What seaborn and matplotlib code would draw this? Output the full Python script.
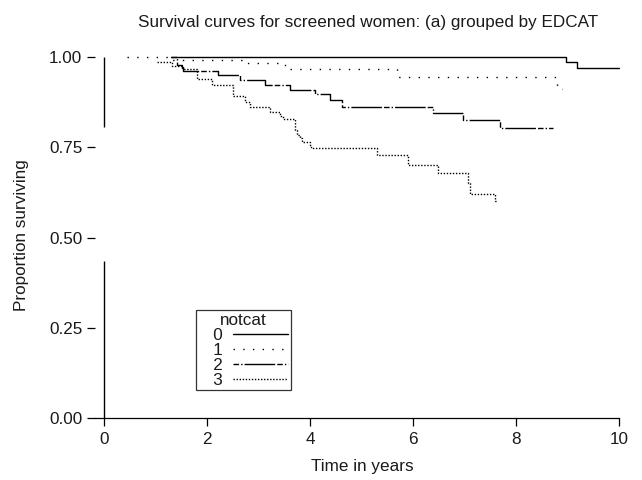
import numpy as np
import pandas as pd
import seaborn as sns
import matplotlib.pyplot as plt
from matplotlib.lines import Line2D

# survival step curves (time in years, proportion surviving)
t0 = [1.30, 8.97, 9.18, 10.0]
s0 = [1.000, 0.986, 0.970, 0.970]

t1 = [0.45, 1.32, 2.74, 3.51, 5.69, 8.80, 8.90]
s1 = [1.000, 0.993, 0.983, 0.967, 0.945, 0.911, 0.911]

t2 = [1.30, 1.42, 1.51, 1.53, 2.21, 2.64, 3.13, 3.61, 4.10, 4.39, 4.62, 6.39, 6.97, 7.69, 8.72]
s2 = [1.000, 0.978, 0.969, 0.961, 0.950, 0.936, 0.922, 0.909, 0.898, 0.881, 0.862, 0.845, 0.826, 0.803, 0.803]

t3 = [1.03, 1.32, 1.53, 1.81, 2.10, 2.50, 2.74, 2.83, 3.22, 3.42, 3.48, 3.71, 3.75, 3.81, 3.84,
      4.00, 4.02, 5.30, 5.90, 6.49, 7.07, 7.11, 7.59, 7.62]
s3 = [0.986, 0.975, 0.967, 0.939, 0.922, 0.892, 0.875, 0.861, 0.848, 0.837, 0.828, 0.798, 0.784,
      0.776, 0.765, 0.756, 0.748, 0.729, 0.701, 0.679, 0.651, 0.620, 0.601, 0.601]

groups = ['0', '1', '2', '3']
times = [t0, t1, t2, t3]
survs = [s0, s1, s2, s3]
styles = {'0': '-',
          '1': (0, (1, 6)),
          '2': (0, (4, 1.5, 1, 1.5, 22, 1.5)),
          '3': (0, (1, 1.2))}

yticks = [0, 0.25, 0.5, 0.75, 1.0]
ytick_labels = ['0.00', '0.25', '0.50', '0.75', '1.00']
xticks = [0, 2, 4, 6, 8, 10]

sns.set_style('white')
plt.rcParams['font.family'] = ['Liberation Sans', 'DejaVu Sans']

fig = plt.figure(figsize=(6.42, 4.8), dpi=100)
ax = fig.add_axes([95/642, 62/480, 524/642, 361/480])

for g, t, s in zip(groups, times, survs):
    d = pd.DataFrame({'time': t, 'surv': s})
    sns.lineplot(data=d, x='time', y='surv', drawstyle='steps-post', color='black',
                 linestyle=styles[g], linewidth=1.0, estimator=None, sort=False,
                 label=g, ax=ax, clip_on=False)

ax.set_xlim(-0.175, 10)
ax.set_ylim(0, 1.0)
ax.set_xticks(xticks)
ax.set_xticklabels([str(x) for x in xticks])
ax.set_yticks(yticks)
ax.set_yticklabels(ytick_labels)
ax.tick_params(axis='both', direction='out', length=6, width=0.9, color='black',
               labelsize=12.3, labelcolor='#1a1a1a', left=True, bottom=True)
ax.tick_params(axis='y', pad=3)
ax.tick_params(axis='x', pad=4)
ax.set_xlabel('')
ax.set_ylabel('')

for side in ['top', 'right', 'left']:
    ax.spines[side].set_visible(False)
ax.spines['bottom'].set_color('black')
ax.spines['bottom'].set_linewidth(0.9)
# broken y-axis line as in the original
axis_lo = [0.0, 0.806]
axis_hi = [0.435, 1.0]
ax.vlines([0, 0], axis_lo, axis_hi, color='black', linewidth=1.0, clip_on=False)

fig.text(368/642, 1 - 22/480, 'Survival curves for screened women: (a) grouped by EDCAT',
         ha='center', va='center', fontsize=12.3, color='#1a1a1a')
fig.text(362/642, 1 - 466/480, 'Time in years', ha='center', va='center',
         fontsize=12.3, color='#1a1a1a')
fig.text(22/642, 1 - 235/480, 'Proportion surviving', ha='center', va='center',
         rotation=90, fontsize=12.3, color='#1a1a1a')

handles = [Line2D([], [], color='black', linestyle=styles[g], linewidth=1.0) for g in groups]
leg = ax.legend(handles, ['   ' + g for g in groups], title='notcat', loc='upper left',
                bbox_to_anchor=((196 - 95)/524, (418 - 310)/361),
                markerfirst=False, handlelength=3.2, handletextpad=0.65,
                labelspacing=0.0, borderpad=0.15, borderaxespad=0,
                fontsize=12.3, title_fontsize=12.3,
                fancybox=False, frameon=True, edgecolor='black')
leg.get_frame().set_linewidth(0.9)
leg._legend_box.sep = 0
for txt in leg.get_texts():
    txt.set_color('#1a1a1a')
leg.get_title().set_color('#1a1a1a')

fig.savefig('out.png', dpi=100)
